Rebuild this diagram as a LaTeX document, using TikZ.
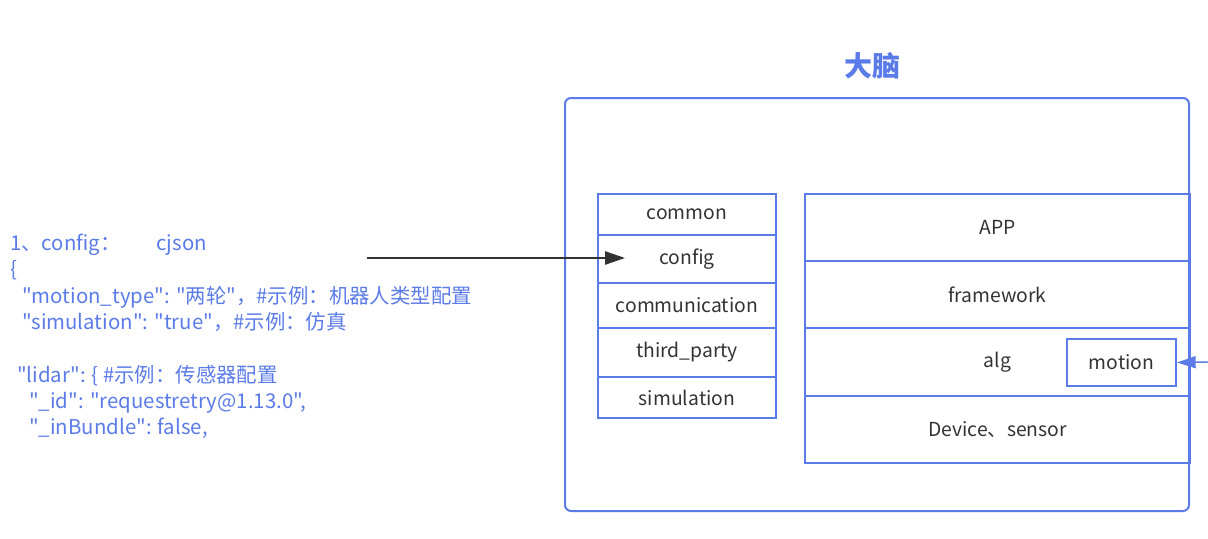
\documentclass[tikz,border=0pt]{standalone}
\usepackage{fontspec}
\setmainfont{Noto Sans CJK SC}[Ligatures=TeXOff]
\usetikzlibrary{arrows.meta, positioning}
\definecolor{brainblue}{HTML}{5B7BE8}
\definecolor{inkgrey}{HTML}{333333}

\tikzset{
  cell/.style = {draw=brainblue, line width=1.5pt, rectangle, inner sep=0pt,
                 text=inkgrey, font=\fontsize{14.5}{16}\selectfont},
  leftcell/.style = {cell, minimum width=133.5pt},
  rightcell/.style = {cell, minimum width=288.75pt},
  cfgline/.style = {anchor=base west, inner sep=0pt, text=brainblue,
                    font=\fontsize{15.3}{17}\selectfont}
}

\begin{document}
\begin{tikzpicture}[x=0.75pt, y=-0.75pt]
  \useasboundingbox (0,0) rectangle (1208,539);

  % outer frame and title
  \draw[brainblue, line width=1.5pt, rounded corners=4.5pt] (565,98) rectangle (1189,511);
  \node[text=brainblue, font=\fontsize{21}{24}\selectfont\bfseries] (title) at (872,66) {大脑};

  % left column of modules
  \foreach \nm/\txt/\yc/\hgt in {common/common/214.5/41, config/config/259/48,
      comm/communication/305.5/45, third/third\_party/352.5/49, sim/simulation/397.5/41}
    \node[leftcell, minimum height=\hgt*0.75pt] (\nm) at (687,\yc) {\txt};

  % right column of layers
  \foreach \nm/\txt/\yc in {app/APP/227.5, frame/framework/294.5,
      alg/alg/362, dev/Device、sensor/429.5}
    \node[rightcell, minimum height=50.6pt] (\nm) at (997.5,\yc) {\txt};
  \node[cell, minimum width=81.75pt, minimum height=35.25pt] (motion) at (1121.5,362.5) {motion};

  % config description
  \node[cfgline] (l1) at (10,250) {1、config：\hspace*{1.75em}cjson};
  \node[cfgline] (l2) at (10,276) {\{};
  \node[cfgline] (l3) at (22,303) {"motion\_type": "两轮"，\#示例：机器人类型配置};
  \node[cfgline] (l4) at (22,329) {"simulation": "true"，\#示例：仿真};
  \node[cfgline] (l5) at (17,382) {"lidar": \{ \#示例：传感器配置};
  \node[cfgline] (l6) at (29,408) {"\_id": "requestretry@1.13.0",};
  \node[cfgline] (l7) at (29,434) {"\_inBundle": false,};

  % arrows
  \coordinate (src) at (367,258);
  \coordinate (ext) at (1208,362);
  \draw[inkgrey, line width=1.1pt, -{Triangle[length=15pt, width=10pt]}]
    (src) -- ([xshift=21pt, yshift=0.75pt]config.west);
  \draw[brainblue, line width=1.1pt, -{Triangle[length=14pt, width=9pt]}]
    (ext) -- (motion.east);
\end{tikzpicture}
\end{document}
